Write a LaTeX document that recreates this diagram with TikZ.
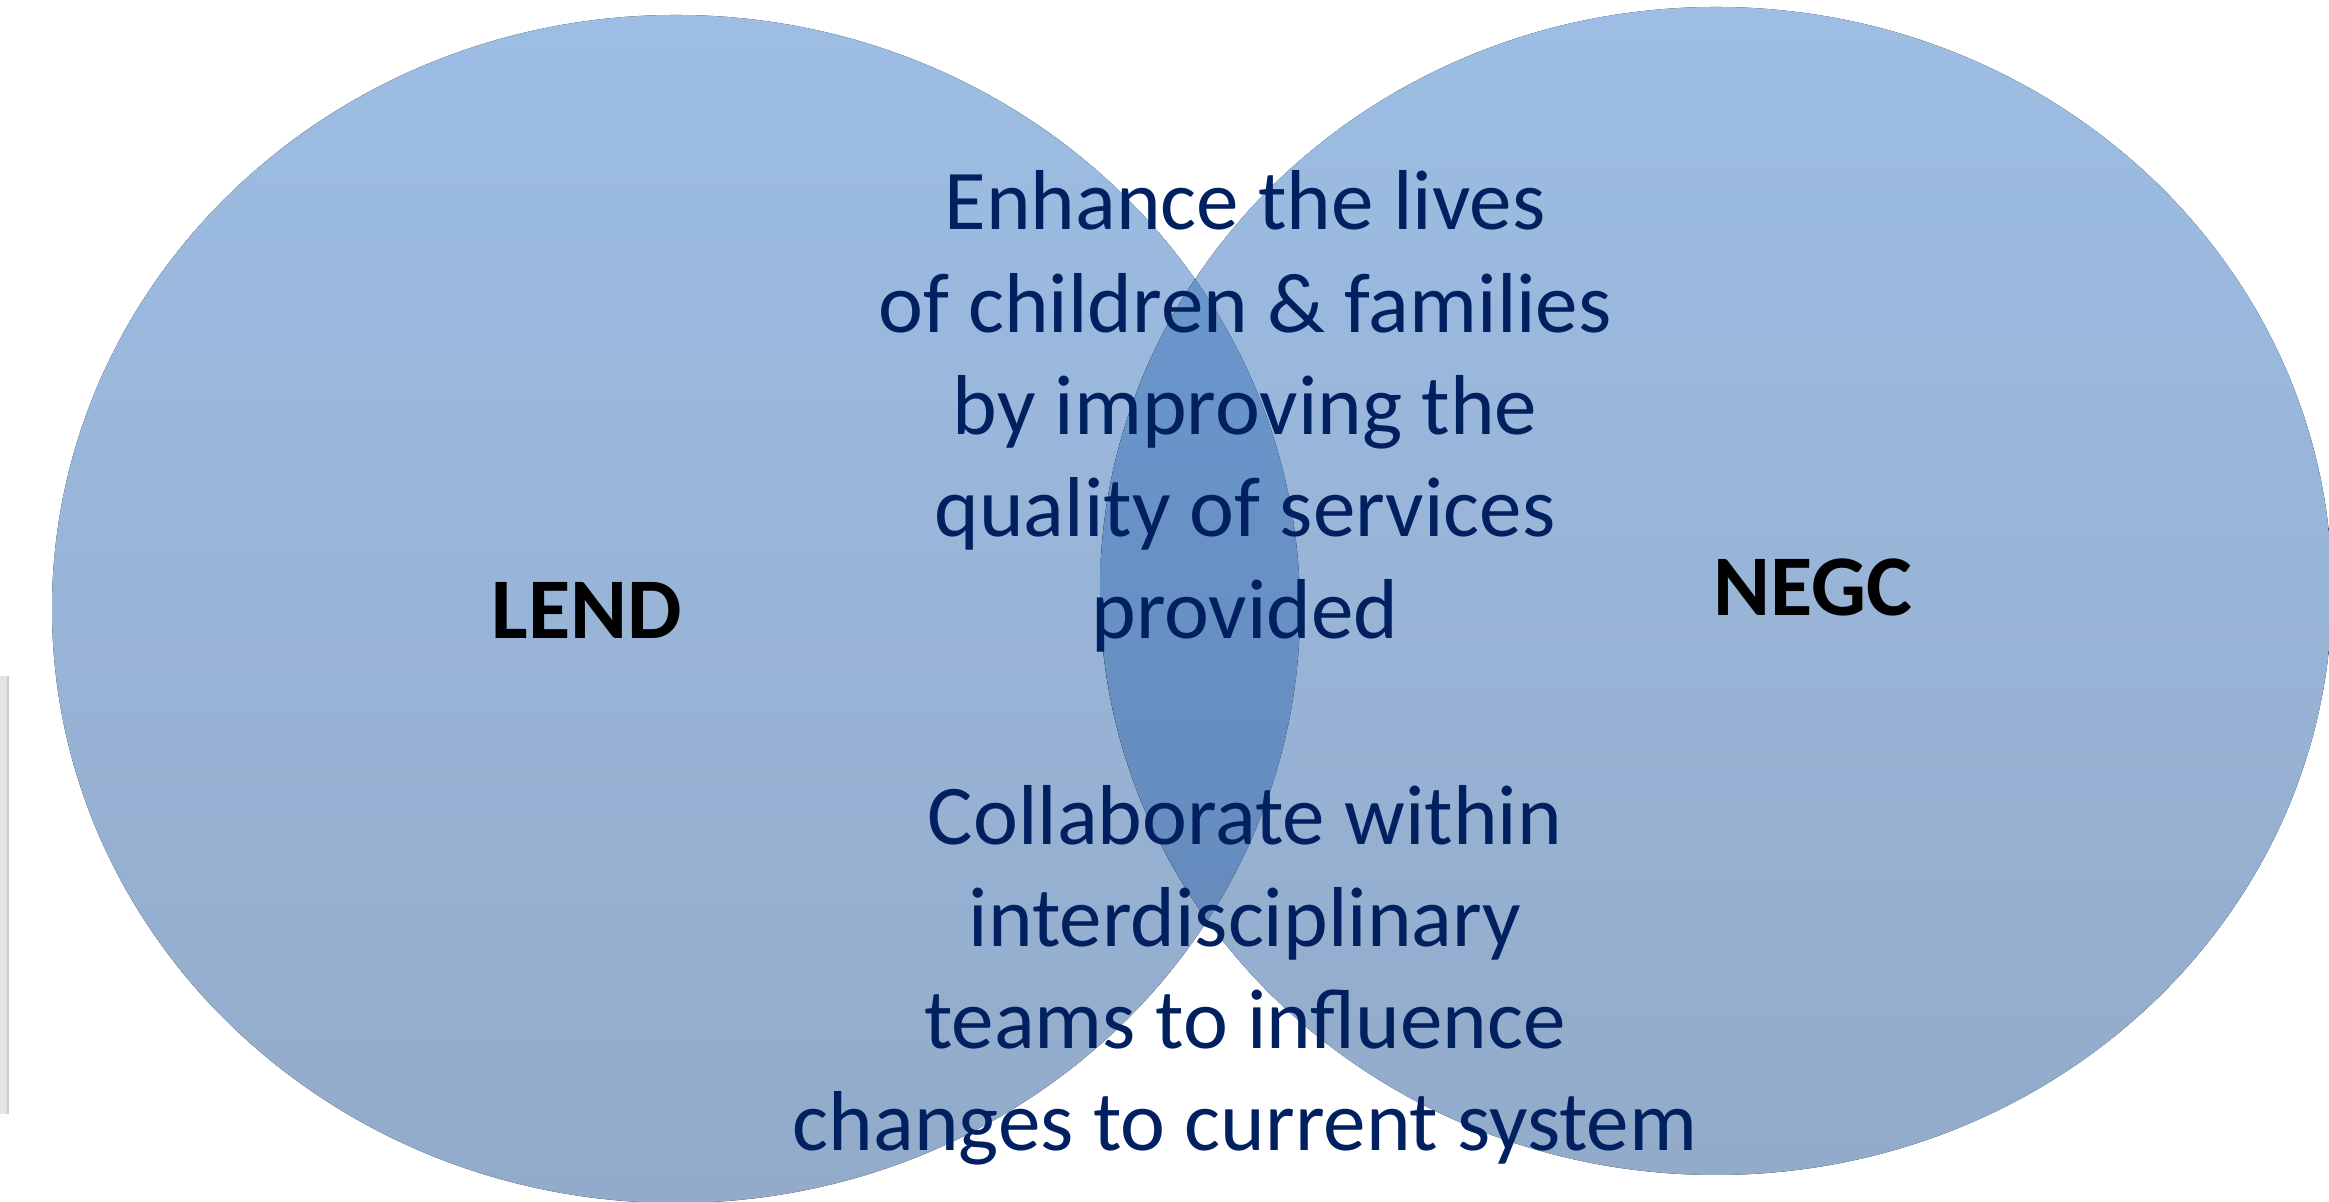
\documentclass[tikz,border=0pt]{standalone}
\usepackage{fontspec}
\setmainfont{Carlito}
\usepackage{xcolor}
\usepackage{tikz}
\usetikzlibrary{positioning}

\definecolor{circtop}{HTML}{9DBDE4}
\definecolor{circbot}{HTML}{93ABCA}
\definecolor{lenstop}{HTML}{6C9BD3}
\definecolor{lensbot}{HTML}{6387B6}
\definecolor{navytext}{HTML}{002060}
\definecolor{edgegrey}{HTML}{E4E4E4}

\tikzset{
  circfill/.style={top color=circtop, bottom color=circbot, draw=none},
  lensfill/.style={top color=lenstop, bottom color=lensbot, draw=none},
  aimtext/.style={text=navytext, align=center, inner sep=0pt,
    font={\fontsize{24.2}{29.1}\selectfont}},
  setname/.style={text=black, inner sep=0pt,
    font={\fontsize{24.6}{30}\selectfont\bfseries}}
}

\begin{document}
\begin{tikzpicture}
\useasboundingbox (0,0) rectangle (23.29,12.02);
% thin strip on the left edge
\fill[edgegrey] (0,0.88) rectangle (0.08,5.26);
\draw[gray!40, line width=0.4pt] (0.08,0.88) -- (0.08,5.26);
% the two sets
\fill[circfill] (6.76,5.93) ellipse (6.24 and 5.94);
\fill[circfill] (17.16,6.11) ellipse (6.16 and 5.84);
% overlap
\begin{scope}
  \clip (6.76,5.93) ellipse (6.24 and 5.94);
  \fill[lensfill] (17.16,6.11) ellipse (6.16 and 5.84);
\end{scope}
% labels (base = last line)
\node[setname, anchor=base] (lend) at (5.87,5.63) {LEND};
\node[setname, anchor=base] (negc) at (18.13,5.86) {NEGC};
\node[aimtext, anchor=base] (goal) at (12.45,5.63)
  {Enhance the lives\\of children \& families\\by improving the\\quality of services\\provided};
\node[aimtext, anchor=base] (collab) at (12.45,0.51)
  {Collaborate within\\interdisciplinary\\teams to influence\\changes to current system};
\end{tikzpicture}
\end{document}
